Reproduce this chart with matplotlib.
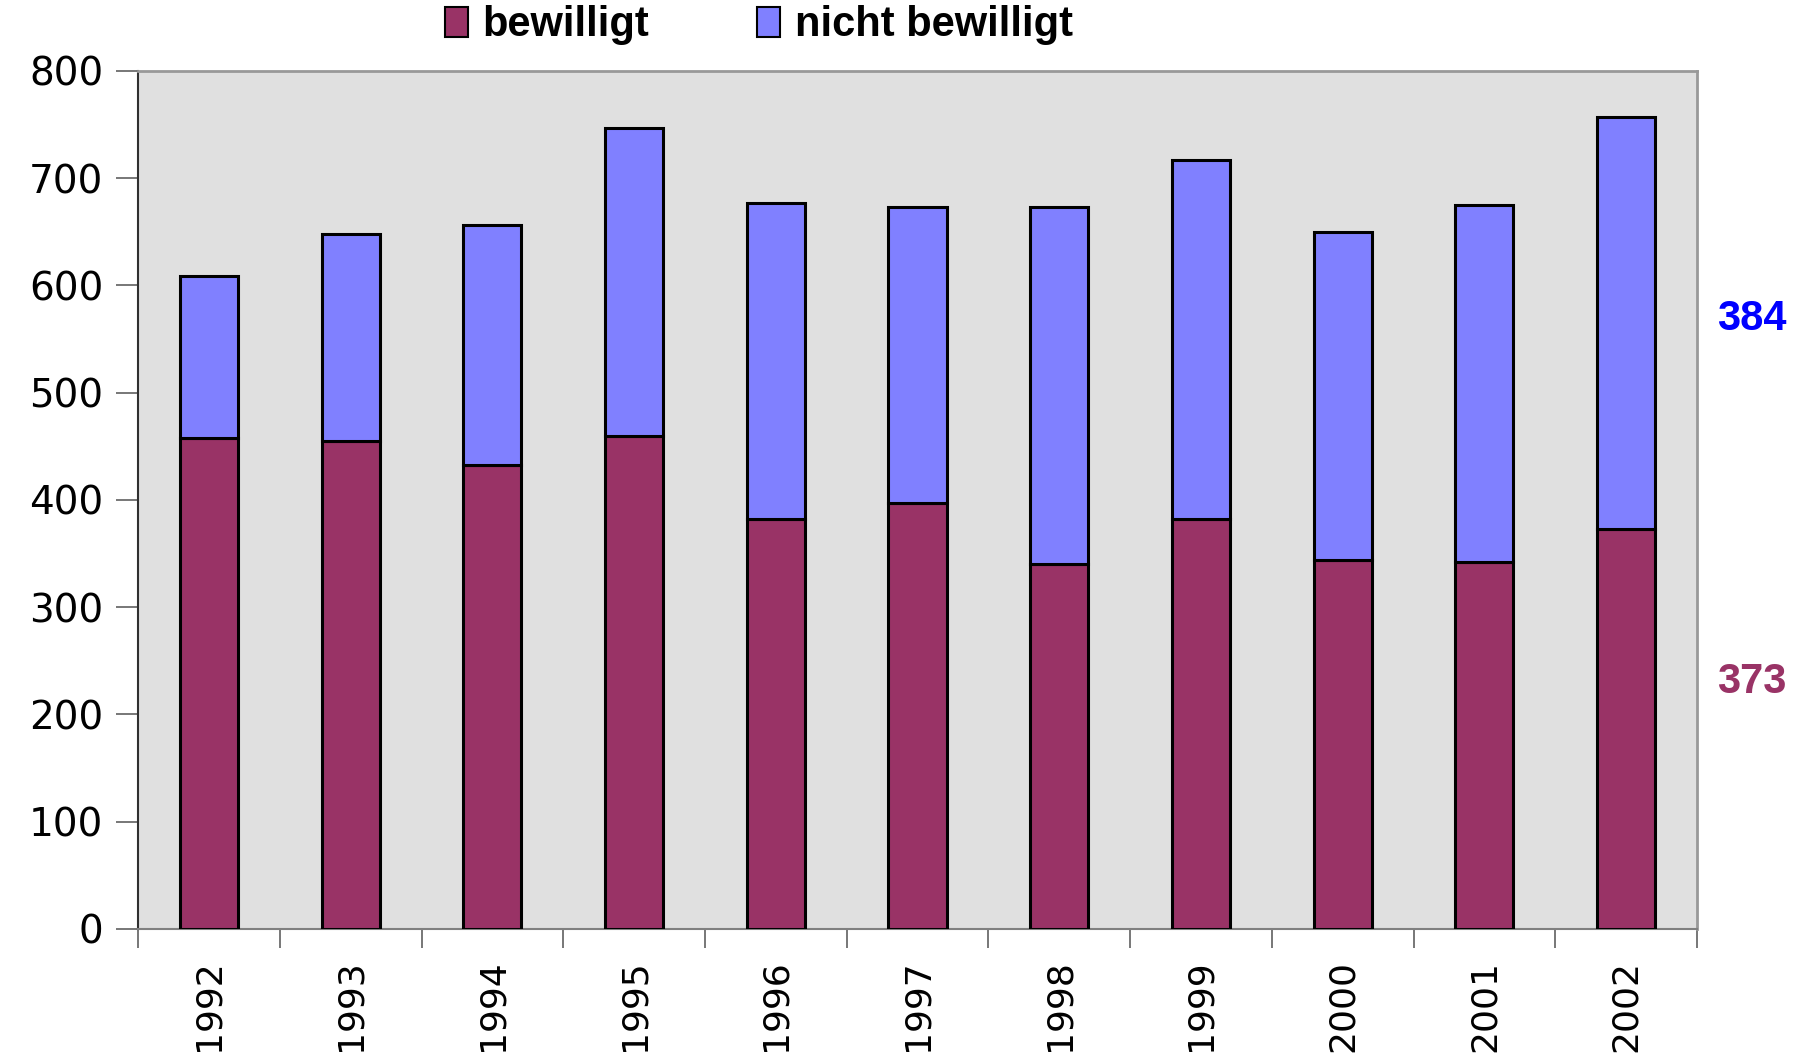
import numpy as np
import matplotlib
matplotlib.use("Agg")
import matplotlib.pyplot as plt
from matplotlib.patches import Patch
import matplotlib.transforms as mtransforms

plt.rcParams['font.family'] = ['Liberation Sans', 'DejaVu Sans']

# data
years = ['1992', '1993', '1994', '1995', '1996', '1997', '1998', '1999', '2000', '2001', '2002']
bewilligt = [458, 455, 433, 460, 382, 397, 340, 382, 344, 342, 373]
nicht_bewilligt = [151, 193, 223, 287, 295, 276, 333, 335, 306, 333, 384]

c_bew = '#993366'
c_nicht = '#8080FF'

fig = plt.figure(figsize=(17.98, 10.56), dpi=100)
ax = fig.add_axes([0.0768, 0.1203, 0.867, 0.8125])
ax.set_facecolor('#E0E0E0')

x = np.arange(len(years))
w = 0.41
ax.bar(x, bewilligt, w, color=c_bew, edgecolor='black', linewidth=2.2, zorder=3)
ax.bar(x, nicht_bewilligt, w, bottom=bewilligt, color=c_nicht,
       edgecolor='black', linewidth=2.2, zorder=3)

ax.set_xlim(-0.5, len(years) - 0.5)
ax.set_ylim(0, 800)
ax.set_yticks(range(0, 801, 100))
ax.set_yticklabels([str(v) for v in range(0, 801, 100)], family='DejaVu Sans')
ax.tick_params(axis='y', direction='out', length=16, width=1.2, color='#606060',
               pad=9, labelsize=28)

# category labels in the middle, tick marks on the boundaries
ax.set_xticks(x)
ax.set_xticklabels(years, rotation=90, fontsize=26, family='DejaVu Sans')
ax.tick_params(axis='x', which='major', length=0, pad=22)
ax.set_xticks(np.arange(-0.5, len(years)), minor=True)
ax.tick_params(axis='x', which='minor', direction='out', length=14, width=1.2,
               color='#606060')

for s in ['top', 'right']:
    ax.spines[s].set_color('#999999')
    ax.spines[s].set_linewidth(2)
ax.spines['left'].set_color('#303030')
ax.spines['left'].set_linewidth(1.5)
ax.spines['bottom'].set_color('#808080')
ax.spines['bottom'].set_linewidth(1.5)

handles = [Patch(facecolor=c_bew, edgecolor='black', linewidth=1.5, label='bewilligt'),
           Patch(facecolor=c_nicht, edgecolor='black', linewidth=1.5, label='nicht bewilligt')]
fig.legend(handles=handles, loc='center', bbox_to_anchor=(0.422, 0.976), ncol=2,
           frameon=False, prop={'weight': 'bold', 'size': 30},
           handlelength=0.55, handleheight=0.75, handletextpad=0.35, columnspacing=2.6)

# values for 2002 at the right
trans = mtransforms.blended_transform_factory(ax.transAxes, ax.transData)
ax.text(1.035, 569, str(nicht_bewilligt[-1]), transform=trans, color='#0000FF',
        fontsize=30, fontweight='bold', ha='center', va='center')
ax.text(1.035, 230, str(bewilligt[-1]), transform=trans, color=c_bew,
        fontsize=30, fontweight='bold', ha='center', va='center')

fig.savefig('out.png', dpi=100)
